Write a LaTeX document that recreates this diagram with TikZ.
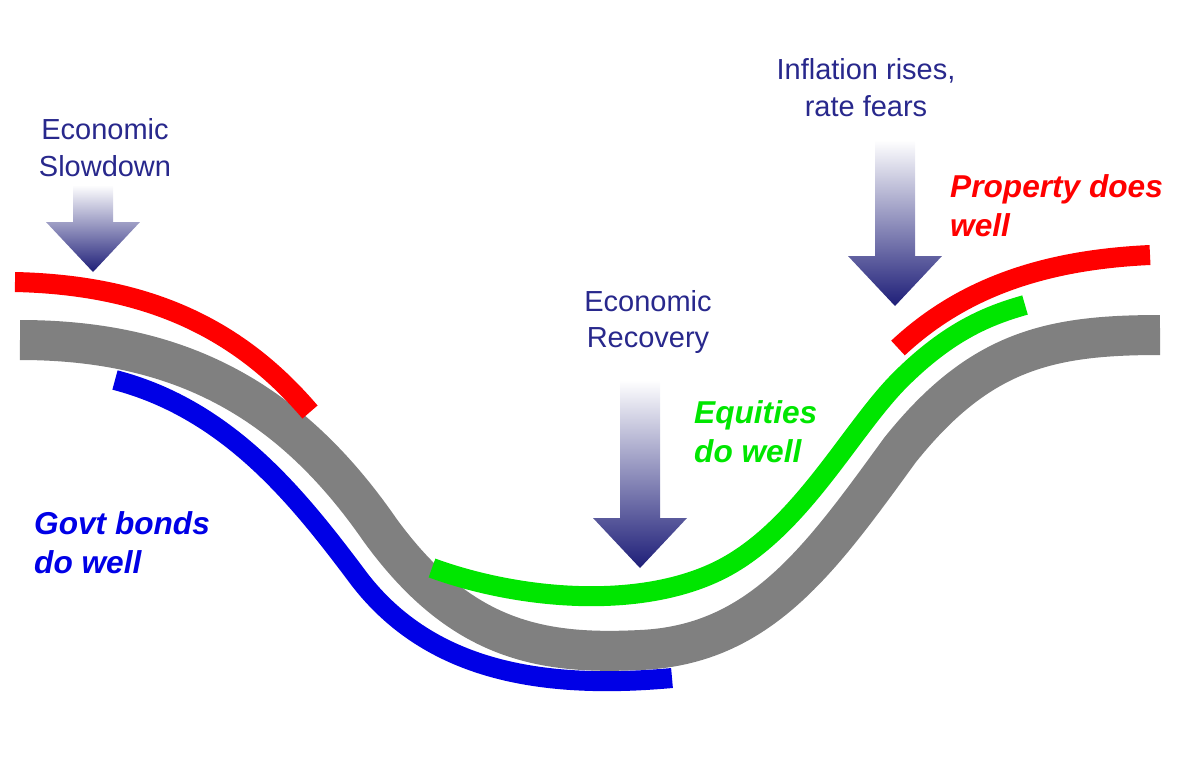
\documentclass[tikz,border=0pt]{standalone}
\usepackage{fontspec}
\setmainfont{Liberation Sans}
\definecolor{navytext}{RGB}{40,40,140}
\definecolor{arrowblue}{RGB}{30,30,120}
\definecolor{railgray}{RGB}{128,128,128}
\definecolor{propred}{RGB}{255,0,0}
\definecolor{equgreen}{RGB}{0,230,0}
\definecolor{bondblue}{RGB}{0,0,230}
\tikzset{
  rail/.style={line width=0.8cm, railgray},
  band/.style={line width=0.4cm},
  phase/.style={text=navytext, align=center, font=\fontsize{16.5}{21}\selectfont},
  winner/.style={align=left, font=\fontsize{18}{22}\selectfont\bfseries\itshape},
}
% shaded down arrow: centre x, top y, tip y (pixels)
\newcommand{\phasearrow}[3]{%
  \shade[top color=white, bottom color=arrowblue]
    (#1-20,#2) -- (#1+20,#2) -- (#1+20,#3-50) -- (#1+47,#3-50) -- (#1,#3)
    -- (#1-47,#3-50) -- (#1-20,#3-50) -- cycle;}
\begin{document}
\begin{tikzpicture}[x=0.02cm, y=-0.02cm]
  \useasboundingbox (0,0) rectangle (1200,772);
  % the cycle
  \draw[rail] (20,340) .. controls (180,340) and (290,400) .. (380,530)
    .. controls (460,640) and (540,655) .. (640,650)
    .. controls (760,645) and (820,560) .. (900,450)
    .. controls (980,350) and (1050,335) .. (1160,335);
  \draw[band, propred] (15,282) .. controls (150,285) and (240,330) .. (310,412);
  \draw[band, bondblue] (115,380) .. controls (230,410) and (300,500) .. (360,580)
    .. controls (430,670) and (540,690) .. (672,678);
  \draw[band, equgreen] (432,568) .. controls (520,600) and (640,610) .. (720,570)
    .. controls (800,530) and (850,430) .. (900,380)
    .. controls (950,330) and (990,315) .. (1025,305);
  \draw[band, propred] (898,348) .. controls (960,290) and (1040,260) .. (1150,255);
  % arrows
  \phasearrow{93}{185}{272}
  \phasearrow{640}{380}{568}
  \phasearrow{895}{140}{306}
  % labels
  \node[phase] (slow) at (105,148) {Economic\\Slowdown};
  \node[phase] (recov) at (648,322) {Economic\\Recovery};
  \node[phase] (infl) at (866,88) {Inflation rises,\\rate fears};
  \node[winner, text=propred, anchor=west] (prop) at (944,206) {Property does\\well};
  \node[winner, text=equgreen, anchor=west] (equ) at (688,432) {Equities\\do well};
  \node[winner, text=bondblue, anchor=west] (bond) at (28,543) {Govt bonds\\do well};
\end{tikzpicture}
\end{document}
